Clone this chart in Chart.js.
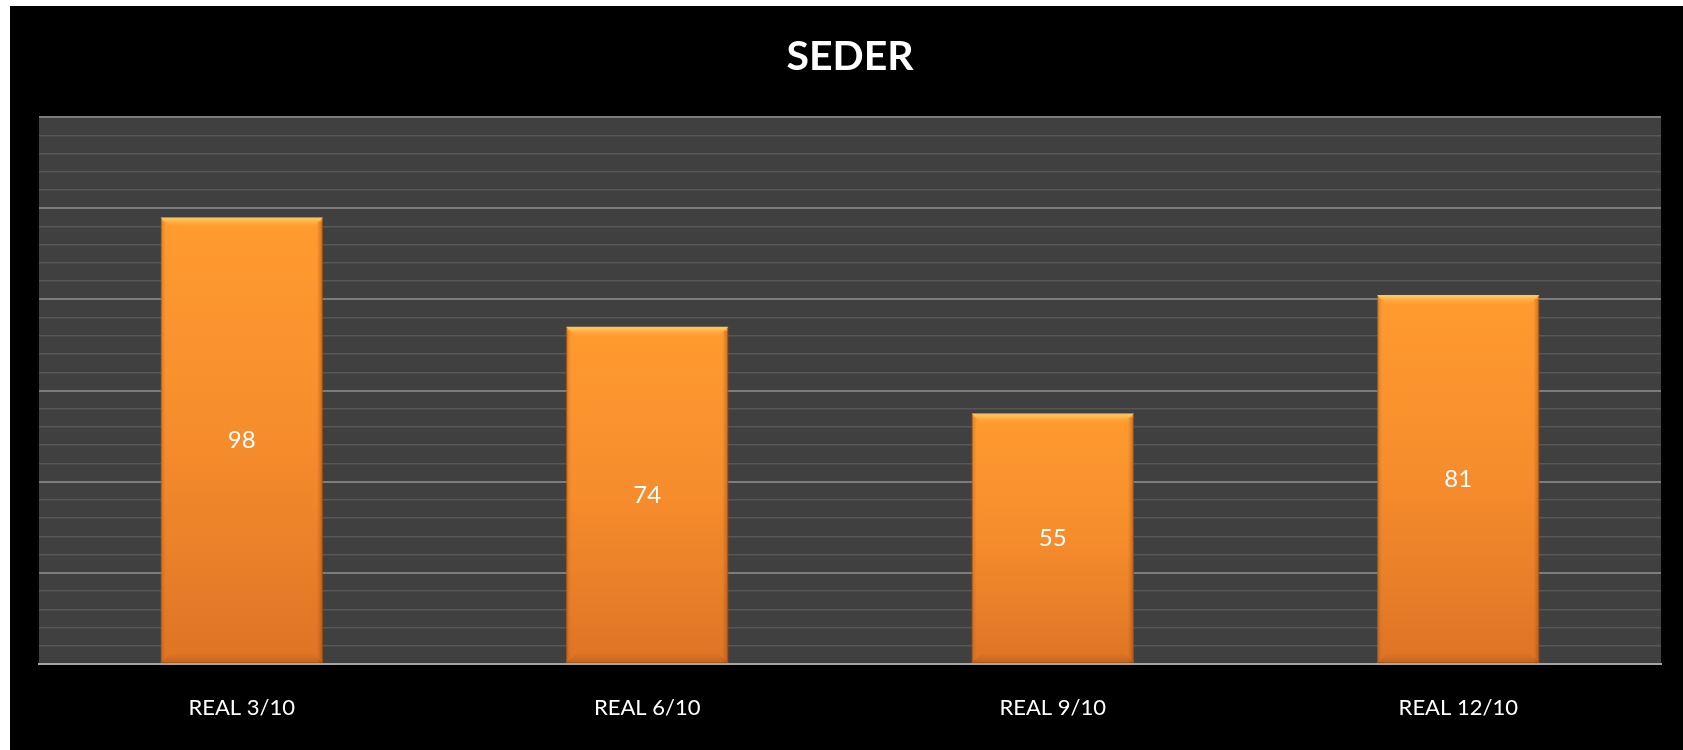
<!DOCTYPE html>
<html>
<head>
<meta charset="utf-8">
<script src="https://cdn.jsdelivr.net/npm/chart.js@4/dist/chart.umd.min.js"></script>
<style>
  html, body { margin: 0; padding: 0; background: #ffffff; }
  #wrap { position: absolute; left: 10px; top: 6px; width: 1673px; height: 744px; background: #000000; }
  canvas { display: block; }
</style>
</head>
<body>
<div id="wrap"><canvas id="c" width="1673" height="744"></canvas></div>
<script>
const categories = ['REAL 3/10', 'REAL 6/10', 'REAL 9/10', 'REAL 12/10'];
const values = [98, 74, 55, 81];
const titleText = 'SEDER';
const yMin = 0, yMax = 120, yStep = 4, yMajor = 20;

const plotBg = {
  id: 'plotBg',
  beforeDraw(chart) {
    const a = chart.chartArea, ctx = chart.ctx;
    ctx.save();
    ctx.fillStyle = '#404040';
    ctx.fillRect(a.left, a.top, a.right - a.left, a.bottom - a.top);
    ctx.restore();
  }
};

const bevel = {
  id: 'bevel',
  afterDatasetsDraw(chart) {
    const ctx = chart.ctx;
    const meta = chart.getDatasetMeta(0);
    meta.data.forEach((el, i) => {
      const l = el.x - el.width / 2, r = el.x + el.width / 2, t = el.y, b = el.base;
      const d = 10;
      ctx.save();
      let g = ctx.createLinearGradient(0, t, 0, t + d);
      g.addColorStop(0, 'rgba(255,215,110,0.95)');
      g.addColorStop(1, 'rgba(255,170,60,0.0)');
      ctx.fillStyle = g;
      ctx.beginPath();
      ctx.moveTo(l, t); ctx.lineTo(r, t); ctx.lineTo(r - d, t + d); ctx.lineTo(l + d, t + d); ctx.closePath();
      ctx.fill();
      g = ctx.createLinearGradient(0, b - d, 0, b);
      g.addColorStop(0, 'rgba(150,70,10,0.0)');
      g.addColorStop(1, 'rgba(150,70,10,0.35)');
      ctx.fillStyle = g;
      ctx.beginPath();
      ctx.moveTo(l, b); ctx.lineTo(r, b); ctx.lineTo(r - d, b - d); ctx.lineTo(l + d, b - d); ctx.closePath();
      ctx.fill();
      g = ctx.createLinearGradient(r - 6, 0, r, 0);
      g.addColorStop(0, 'rgba(140,60,10,0.0)');
      g.addColorStop(1, 'rgba(140,60,10,0.45)');
      ctx.fillStyle = g;
      ctx.fillRect(r - 6, t + 4, 6, b - t - 4);
      g = ctx.createLinearGradient(l, 0, l + 5, 0);
      g.addColorStop(0, 'rgba(160,80,20,0.35)');
      g.addColorStop(1, 'rgba(160,80,20,0.0)');
      ctx.fillStyle = g;
      ctx.fillRect(l, t + 4, 5, b - t - 4);
      ctx.fillStyle = '#ffffff';
      ctx.font = '24px Lato, "Open Sans", sans-serif';
      ctx.textAlign = 'center';
      ctx.textBaseline = 'middle';
      ctx.fillText(String(values[i]), el.x, (t + b) / 2);
      ctx.restore();
    });
  }
};

function barGradient(context) {
  const chart = context.chart;
  const ys = chart.scales.y;
  if (!ys || !chart.chartArea) return '#F7912E';
  const v = context.raw;
  const top = ys.getPixelForValue(v);
  const bottom = ys.getPixelForValue(0);
  const g = chart.ctx.createLinearGradient(0, top, 0, bottom);
  g.addColorStop(0, '#FF9B2F');
  g.addColorStop(0.5, '#F68C2C');
  g.addColorStop(1, '#DE7425');
  return g;
}

new Chart(document.getElementById('c'), {
  type: 'bar',
  data: {
    labels: categories,
    datasets: [{
      data: values,
      backgroundColor: barGradient,
      borderColor: '#B8621C',
      borderWidth: 1,
      borderSkipped: false,
      categoryPercentage: 1.0,
      barPercentage: 0.4
    }]
  },
  options: {
    responsive: false,
    animation: false,
    events: [],
    layout: { padding: { left: 29, right: 22, top: 0, bottom: 0 } },
    plugins: {
      legend: { display: false },
      tooltip: { enabled: false },
      title: {
        display: true,
        text: titleText,
        color: '#ffffff',
        font: { family: 'Lato, "Open Sans", sans-serif', size: 41, weight: 'bold', lineHeight: 1.2 },
        padding: { top: 26, bottom: 36 }
      }
    },
    scales: {
      x: {
        grid: { display: false, drawTicks: false },
        border: { display: true, color: '#a6a6a6', width: 2 },
        ticks: {
          color: '#ffffff',
          font: { family: 'Lato, "Open Sans", sans-serif', size: 22 },
          padding: 31
        },
        afterFit(scale) { scale.height = 86; }
      },
      y: {
        min: yMin,
        max: yMax,
        ticks: { display: false, stepSize: yStep },
        border: { display: false },
        grid: {
          drawTicks: false,
          color: (c) => (c.tick && c.tick.value % yMajor === 0) ? '#7c7c7c' : '#575757',
          lineWidth: (c) => (c.tick && c.tick.value % yMajor === 0) ? 2 : 1.6
        },
        afterFit(scale) { scale.width = 0; }
      }
    }
  },
  plugins: [plotBg, bevel]
});
</script>
</body>
</html>
